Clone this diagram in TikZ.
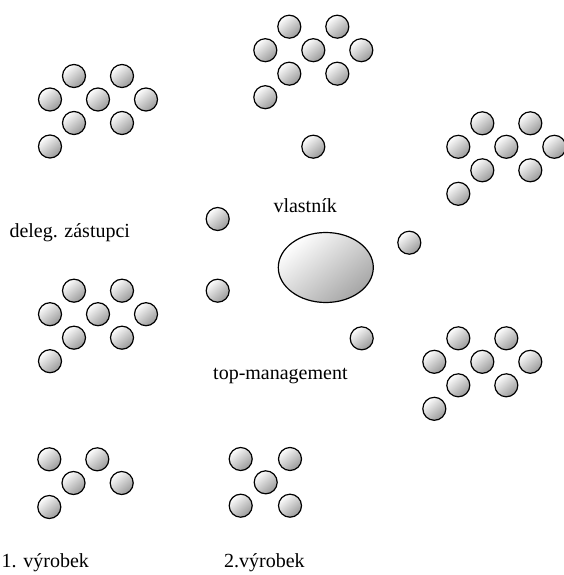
\documentclass[tikz,border=0pt]{standalone}
\usepackage{fontspec}
\setmainfont{Liberation Serif}
\usetikzlibrary{shapes.geometric}
\begin{document}
\begin{tikzpicture}[x=1pt,y=-1pt,
  ball/.style={circle,draw=black,line width=1.2pt,minimum size=23pt,inner sep=0pt,
    shading=axis,top color=white,bottom color=black!40,shading angle=40},
  owner/.style={ellipse,draw=black,line width=1.2pt,minimum width=95pt,minimum height=70pt,inner sep=0pt,
    shading=axis,top color=white,bottom color=black!35,shading angle=40},
  label/.style={anchor=base west,inner sep=0pt,font=\fontsize{20}{24}\selectfont}]
\useasboundingbox (0,0) rectangle (564,575);

% eight-ball groups: offsets from the upper-left ball
\foreach \g/\x/\y in {a/74/76, b/289.3/26.7, c/482.3/123.3, d/74/290.7, e/458.3/338.3}{
  \foreach \i/\dx/\dy in {1/0/0, 2/48/0, 3/-24/23.5, 4/24/23.5, 5/72/23.5, 6/0/47, 7/48/47, 8/-24/70.5}{
    \node[ball] (\g\i) at (\x+\dx,\y+\dy) {};
  }
}

% product groups
\foreach \i/\x/\y in {1/49.3/459.3, 2/97.3/459.3, 3/73.5/483, 4/121.7/483, 5/49.3/507}{
  \node[ball] (p\i) at (\x,\y) {};
}
\foreach \i/\x/\y in {1/240.7/459, 2/290/459, 3/265.7/482.3, 4/240.7/505.7, 5/290/505.7}{
  \node[ball] (q\i) at (\x,\y) {};
}

% single balls around the owner
\node[ball] (s1) at (313.3,146.7) {};
\node[ball] (s2) at (217.7,219) {};
\node[ball] (s3) at (409.3,242.7) {};
\node[ball] (s4) at (217.7,290.7) {};
\node[ball] (s5) at (361.7,338.3) {};

% owner
\node[owner] (own) at (325.8,267.5) {};

% labels
\node[label] (lown) at (273.3,212.7) {vlastník};
\node[label] (ldel) at (9.3,237) {deleg. zástupci};
\node[label] (ltop) at (213,379) {top-management};
\node[label] (lp1) at (1.5,567) {1. výrobek};
\node[label] (lp2) at (224,567) {2.výrobek};
\end{tikzpicture}
\end{document}
